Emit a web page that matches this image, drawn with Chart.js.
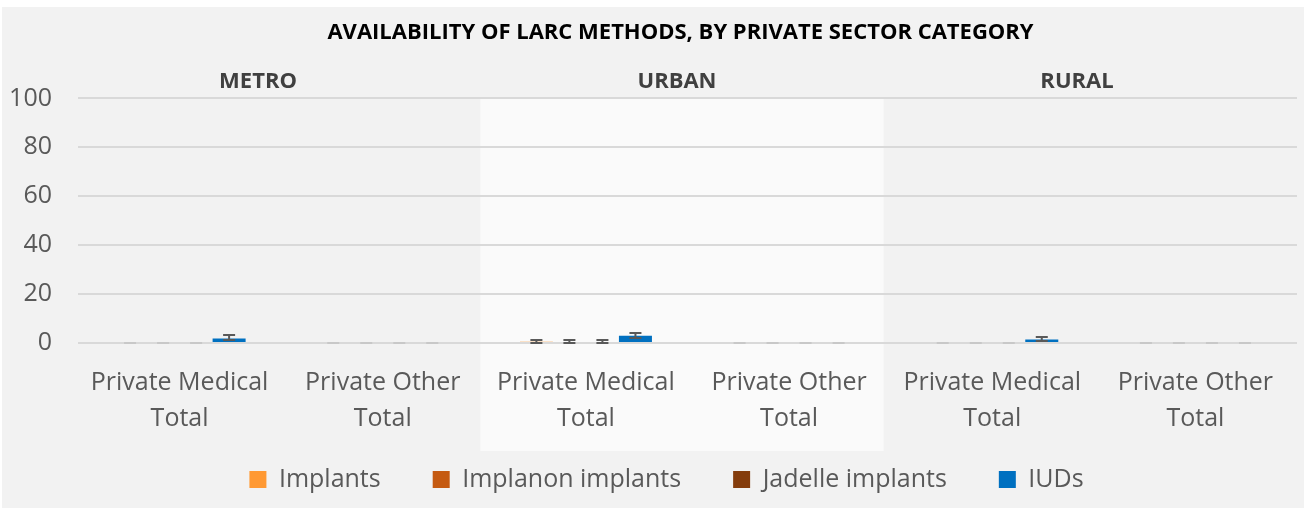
<!DOCTYPE html>
<html>
<head>
<meta charset="utf-8">
<title>Availability of LARC methods</title>
<script src="https://cdn.jsdelivr.net/npm/chart.js@4"></script>
<style>
  body { margin: 0; background: #fff; }
  #wrap { position: absolute; left: 2px; top: 7px; width: 1302px; height: 501px; background: #f2f2f2; }
</style>
</head>
<body>
<div id="wrap"><canvas id="larc-chart" width="1302" height="501"></canvas></div>
<script>
const categories = [
  ['Private Medical', 'Total'], ['Private Other', 'Total'],
  ['Private Medical', 'Total'], ['Private Other', 'Total'],
  ['Private Medical', 'Total'], ['Private Other', 'Total'],
];
const regions = ['METRO', 'URBAN', 'RURAL'];
const yTicks = [0, 20, 40, 60, 80, 100];

const implants = [0, 0, 0.5, 0, 0, 0];
const implanon = [0, 0, 0, 0, 0, 0];
const jadelle = [0, 0, 0, 0, 0, 0];
const iuds = [1.8, 0, 3.0, 0, 1.4, 0];

// confidence interval bounds
const implantsLow = [0, 0, 0, 0, 0, 0];
const implantsHigh = [0, 0, 1.3, 0, 0, 0];
const implanonLow = [0, 0, 0, 0, 0, 0];
const implanonHigh = [0, 0, 1.2, 0, 0, 0];
const jadelleLow = [0, 0, 0, 0, 0, 0];
const jadelleHigh = [0, 0, 1.2, 0, 0, 0];
const iudsLow = [1.1, 0, 1.9, 0, 0.9, 0];
const iudsHigh = [3.3, 0, 4.1, 0.2, 2.6, 0.2];

const textGrey = '#595959';
Chart.defaults.font.family = '"Open Sans", sans-serif';

const bandPlugin = {
  id: 'band',
  beforeDraw(chart) {
    const { ctx, chartArea, scales } = chart;
    const x0 = scales.x.getPixelForValue(1.5) - 4;
    const x1 = scales.x.getPixelForValue(3.5) - 7;
    ctx.save();
    ctx.fillStyle = '#fafafa';
    ctx.fillRect(x0, chartArea.top, x1 - x0, chartArea.bottom - chartArea.top + 108);
    ctx.restore();
  },
  afterLayout(chart) {
    chart.titleBlock.left += 28;
    chart.titleBlock.right += 28;
    chart.legend.left += 14;
    chart.legend.right += 14;
    // let the two-line category labels run below the fitted axis box
    chart.scales.x.bottom += 40;
  },
  afterDraw(chart) {
    const { ctx } = chart;
    const xs = [256, 675, 1075];
    ctx.save();
    ctx.font = 'bold 22px "Open Sans"';
    ctx.fillStyle = '#404040';
    ctx.textAlign = 'center';
    ctx.textBaseline = 'middle';
    regions.forEach((r, i) => ctx.fillText(r, xs[i], 75));
    ctx.restore();
  },
};

const errorBarPlugin = {
  id: 'errorBars',
  afterDatasetsDraw(chart) {
    const { ctx, scales } = chart;
    ctx.save();
    ctx.lineWidth = 2;
    chart.data.datasets.forEach((ds, i) => {
      const meta = chart.getDatasetMeta(i);
      meta.data.forEach((bar, j) => {
        const lo = ds.errLow[j];
        const hi = ds.errHigh[j];
        const yLo = Math.round(scales.y.getPixelForValue(lo));
        const yHi = Math.round(scales.y.getPixelForValue(hi));
        ctx.strokeStyle = hi - lo < 0.5 ? '#c8c8c8' : textGrey;
        ctx.beginPath();
        ctx.moveTo(bar.x - 6, yHi); ctx.lineTo(bar.x + 6, yHi);
        ctx.moveTo(bar.x, yHi); ctx.lineTo(bar.x, yLo);
        ctx.moveTo(bar.x - 6, yLo); ctx.lineTo(bar.x + 6, yLo);
        ctx.stroke();
      });
    });
    ctx.restore();
  },
};

new Chart(document.getElementById('larc-chart'), {
  type: 'bar',
  data: {
    labels: categories,
    datasets: [
      { label: 'Implants', data: implants, errLow: implantsLow, errHigh: implantsHigh, backgroundColor: '#ff9933' },
      { label: 'Implanon implants', data: implanon, errLow: implanonLow, errHigh: implanonHigh, backgroundColor: '#c55a11' },
      { label: 'Jadelle implants', data: jadelle, errLow: jadelleLow, errHigh: jadelleHigh, backgroundColor: '#843c0c' },
      { label: 'IUDs', data: iuds, errLow: iudsLow, errHigh: iudsHigh, backgroundColor: '#0070c0' },
    ],
  },
  options: {
    responsive: false,
    animation: false,
    datasets: { bar: { categoryPercentage: 0.65, barPercentage: 1.0, borderWidth: 0 } },
    layout: { padding: { left: 6, right: 7, bottom: 6 } },
    plugins: {
      title: {
        display: true,
        text: 'AVAILABILITY OF LARC METHODS, BY PRIVATE SECTOR CATEGORY',
        color: '#000',
        font: { size: 22, weight: 'bold' },
        padding: { top: 13, bottom: 52 },
      },
      legend: {
        position: 'bottom',
        labels: { boxWidth: 17, boxHeight: 17, padding: 52, color: textGrey, font: { size: 25 } },
      },
      tooltip: { enabled: false },
    },
    scales: {
      x: {
        grid: { display: false, drawTicks: false },
        border: { display: false },
        ticks: { color: textGrey, font: { size: 25, lineHeight: 1.44 }, padding: 22, maxRotation: 0, autoSkip: false },
        afterFit: (s) => { s.height = 72; },
      },
      y: {
        min: 0,
        max: 100,
        afterBuildTicks: (s) => { s.ticks = yTicks.map((v) => ({ value: v })); },
        ticks: { color: textGrey, font: { size: 25 }, padding: 26 },
        grid: { color: '#d9d9d9', lineWidth: 2, drawTicks: false },
        border: { display: false },
        afterFit: (s) => { s.width = 70; },
      },
    },
  },
  plugins: [bandPlugin, errorBarPlugin],
});
</script>
</body>
</html>
